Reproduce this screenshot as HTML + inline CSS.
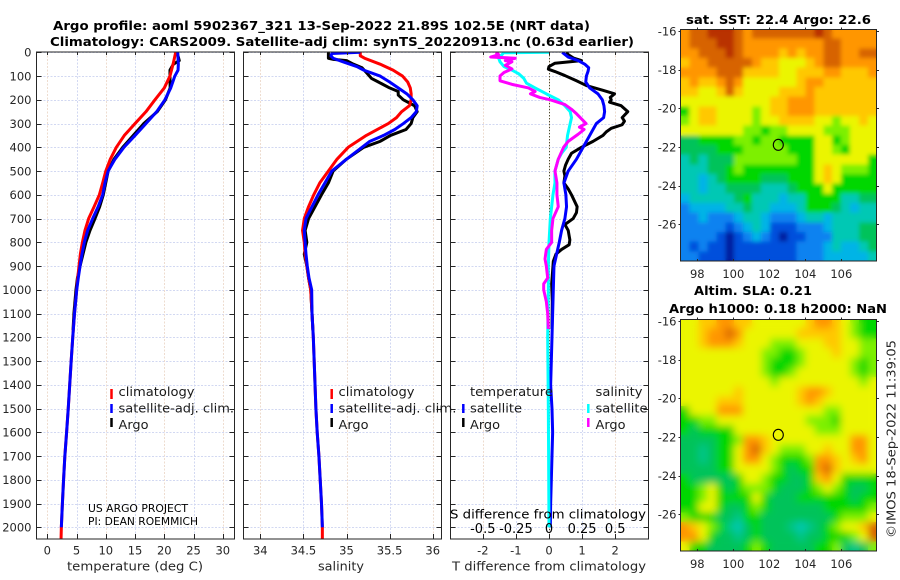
<!DOCTYPE html>
<html>
<head>
<meta charset="utf-8">
<title>Argo profile</title>
<style>
html,body{margin:0;padding:0;background:#fff;}
svg{display:block;}
text{font-family:"DejaVu Sans","Liberation Sans",sans-serif;fill:#262626;font-size:11.5px;}
.ttl{font-weight:bold;fill:#000;font-size:12px;}
.leg{font-size:12px;fill:#1a1a1a;}
</style>
</head>
<body>
<svg id="fig" xmlns="http://www.w3.org/2000/svg" width="900" height="580" viewBox="0 0 900 580">
  <defs>
    <clipPath id="clipT"><rect x="36.5" y="52" width="198" height="487"/></clipPath>
    <clipPath id="clipS"><rect x="243.5" y="52" width="198" height="487"/></clipPath>
    <clipPath id="clipD"><rect x="450.5" y="52" width="198" height="487"/></clipPath>
    <clipPath id="clipM1"><rect x="680.5" y="29.5" width="196" height="231.5"/></clipPath>
    <clipPath id="clipM2"><rect x="680.5" y="319.5" width="196" height="231.5"/></clipPath>
    <filter id="blurSla" x="0" y="0" width="1" height="1"><feGaussianBlur in="SourceGraphic" stdDeviation="4" result="b"/><feMerge><feMergeNode in="SourceGraphic"/><feMergeNode in="b"/></feMerge></filter>
    <filter id="blurSst" x="0" y="0" width="1" height="1"><feGaussianBlur in="SourceGraphic" stdDeviation="2.2" result="b"/><feMerge><feMergeNode in="SourceGraphic"/><feMergeNode in="b"/></feMerge></filter>
  </defs>
  <rect x="0" y="0" width="900" height="580" fill="#fff"/>

  <g id="gridLayer"></g>
  <g id="lineT" clip-path="url(#clipT)"></g>
  <g id="lineS" clip-path="url(#clipS)"></g>
  <g id="lineD" clip-path="url(#clipD)"></g>
  <g id="axesLayer"></g>

  <g id="map1"><g id="map1cells" clip-path="url(#clipM1)" filter="url(#blurSst)" shape-rendering="crispEdges"></g></g>
  <g id="map2"><g id="map2cells" clip-path="url(#clipM2)" filter="url(#blurSla)" shape-rendering="crispEdges"></g></g>
  <g id="mapAxes"></g>

  <text class="ttl" x="53" y="30" textLength="537" lengthAdjust="spacingAndGlyphs">Argo profile: aoml 5902367_321 13-Sep-2022 21.89S 102.5E (NRT data)</text>
  <text class="ttl" x="50" y="46" textLength="584" lengthAdjust="spacingAndGlyphs">Climatology: CARS2009. Satellite-adj clim: synTS_20220913.nc (0.63d earlier)</text>
  <text class="ttl" x="686" y="24" textLength="185" lengthAdjust="spacingAndGlyphs">sat. SST: 22.4 Argo: 22.6</text>
  <text class="ttl" x="694" y="295" textLength="118" lengthAdjust="spacingAndGlyphs">Altim. SLA: 0.21</text>
  <text class="ttl" x="669" y="313" textLength="218" lengthAdjust="spacingAndGlyphs">Argo h1000: 0.18 h2000: NaN</text>
  <text transform="translate(895.5,538) rotate(-90)" textLength="198" lengthAdjust="spacingAndGlyphs" style="font-size:12px">©IMOS 18-Sep-2022 11:39:05</text>

  <text x="67" y="570.5" textLength="136" lengthAdjust="spacingAndGlyphs" style="font-size:12px">temperature (deg C)</text>
  <text x="318" y="570.5" textLength="46" lengthAdjust="spacingAndGlyphs" style="font-size:12px">salinity</text>
  <text x="452" y="570.5" textLength="194" lengthAdjust="spacingAndGlyphs" style="font-size:12px">T difference from climatology</text>
  <text x="450" y="518.5" textLength="196" lengthAdjust="spacingAndGlyphs" style="font-size:12px;fill:#000">S difference from climatology</text>

  <g>
    <line x1="111.5" x2="111.5" y1="389" y2="399" stroke="#f00" stroke-width="2.5"/>
    <line x1="111.5" x2="111.5" y1="404" y2="413" stroke="#00f" stroke-width="2.5"/>
    <line x1="111.5" x2="111.5" y1="418" y2="427" stroke="#000" stroke-width="2.5"/>
    <text class="leg" x="118.5" y="396" textLength="76" lengthAdjust="spacingAndGlyphs">climatology</text>
    <text class="leg" x="118.5" y="412.5" textLength="115.5" lengthAdjust="spacingAndGlyphs">satellite-adj. clim.</text>
    <text class="leg" x="118.5" y="429" textLength="30" lengthAdjust="spacingAndGlyphs">Argo</text>
    <text x="88" y="512" textLength="100" lengthAdjust="spacingAndGlyphs" style="font-size:10.5px;fill:#000">US ARGO PROJECT</text>
    <text x="88" y="525" textLength="110" lengthAdjust="spacingAndGlyphs" style="font-size:10.5px;fill:#000">PI: DEAN ROEMMICH</text>
  </g>
  <g>
    <line x1="331.7" x2="331.7" y1="389" y2="399" stroke="#f00" stroke-width="2.5"/>
    <line x1="331.7" x2="331.7" y1="404" y2="413" stroke="#00f" stroke-width="2.5"/>
    <line x1="331.7" x2="331.7" y1="418" y2="427" stroke="#000" stroke-width="2.5"/>
    <text class="leg" x="338.5" y="396" textLength="76" lengthAdjust="spacingAndGlyphs">climatology</text>
    <text class="leg" x="338.5" y="412.5" textLength="118" lengthAdjust="spacingAndGlyphs">satellite-adj. clim.</text>
    <text class="leg" x="338.5" y="429" textLength="30" lengthAdjust="spacingAndGlyphs">Argo</text>
  </g>
  <g>
    <text class="leg" x="470" y="396" textLength="83" lengthAdjust="spacingAndGlyphs">temperature</text>
    <line x1="463.3" x2="463.3" y1="404" y2="413" stroke="#00f" stroke-width="2.5"/>
    <line x1="463.3" x2="463.3" y1="418" y2="427" stroke="#000" stroke-width="2.5"/>
    <text class="leg" x="470" y="412.5" textLength="52" lengthAdjust="spacingAndGlyphs">satellite</text>
    <text class="leg" x="470" y="429" textLength="30" lengthAdjust="spacingAndGlyphs">Argo</text>
    <text class="leg" x="595.5" y="396" textLength="47" lengthAdjust="spacingAndGlyphs">salinity</text>
    <line x1="588.3" x2="588.3" y1="404" y2="413" stroke="#0ff" stroke-width="2.5"/>
    <line x1="588.3" x2="588.3" y1="418" y2="427" stroke="#f0f" stroke-width="2.5"/>
    <text class="leg" x="595.5" y="412.5" textLength="52" lengthAdjust="spacingAndGlyphs">satellite</text>
    <text class="leg" x="595.5" y="429" textLength="30" lengthAdjust="spacingAndGlyphs">Argo</text>
  </g>
</svg>
<script>
// ---------- tick labels ----------
const depthTicks = [0,100,200,300,400,500,600,700,800,900,1000,1100,1200,1300,1400,1500,1600,1700,1800,1900,2000];
const tempTicks = [0,5,10,15,20,25,30];
const salTicks = [34,34.5,35,35.5,36];
const salTickLabels = ['34','34.5','35','35.5','36'];
const dTempTicks = [-2,-1,0,1,2];
const dSalTicks = [-0.5,-0.25,0,0.25,0.5];
const dSalTickLabels = ['-0.5','-0.25','0','0.25','0.5'];
const lonTicks = [98,100,102,104,106];
const latTicks = [-16,-18,-20,-22,-24,-26];

// ---------- temperature profiles ----------
const tempClimDepths = [0,50,100,150,200,250,300,350,400,450,500,550,600,650,700,750,800,850,900,950,1000,1100,1200,1300,1400,1500,1600,1700,1800,1900,2000,2050];
const tempClimValues = [21.95,21.5,20.97,20,18.4,16.87,15,13.17,11.8,10.77,10,9.47,8.9,8,7.07,6.44,6,5.65,5.42,5.2,5.02,4.65,4.35,4.08,3.83,3.58,3.3,3,2.78,2.58,2.4,2.35];
const tempSatDepths = [0,50,75,100,150,200,250,300,350,400,450,500,550,600,650,700,750,800,850,900,950,1000,1100,1200,1300,1400,1500,1600,1700,1800,1900,2000];
const tempSatValues = [22.3,22.4,22.35,21.8,21.1,20.1,18.7,16.87,15,13.1,11.57,10.4,9.86,9.47,8.7,7.76,6.9,6.33,5.93,5.6,5.3,5.03,4.65,4.35,4.08,3.83,3.58,3.3,3,2.78,2.58,2.4];
const tempArgoDepths = [0,20,35,50,75,100,150,200,250,300,350,400,450,500,600,650,700,750,800,850,900,950,1000,1100,1170];
const tempArgoValues = [22.1,22.4,22.56,21.55,20.97,20.97,21,20.2,18.8,16.5,14.7,12.9,11.4,10.4,9.57,8.95,8.15,7.3,6.6,6.1,5.6,5.15,4.9,4.55,4.4];

// ---------- salinity profiles ----------
const salClimDepths = [0,15,25,50,75,100,125,150,175,200,225,250,275,300,350,400,450,500,550,600,650,700,750,800,850,900,950,1000,1100,1200,1300,1400,1500,1600,1700,1800,1900,2000,2050];
const salClimValues = [35.16,35.16,35.21,35.39,35.54,35.65,35.71,35.74,35.75,35.75,35.73,35.64,35.58,35.485,35.23,35.02,34.89,34.79,34.69,34.62,34.56,34.51,34.49,34.51,34.52,34.54,34.56,34.585,34.6,34.615,34.625,34.635,34.645,34.66,34.68,34.695,34.71,34.72,34.72];
const salSatDepths = [0,5,15,25,40,60,75,100,125,150,175,200,225,250,275,300,325,350,375,400,450,500,550,600,650,700,750,800,850,900,950,1000,1100,1200,1300,1400,1500,1600,1700,1800,1900,2000];
const salSatValues = [35.16,34.83,34.82,34.845,34.96,35.12,35.2,35.39,35.5,35.6,35.7,35.77,35.82,35.81,35.75,35.66,35.56,35.43,35.27,35.18,35,34.83,34.75,34.67,34.6,34.53,34.51,34.52,34.53,34.545,34.565,34.596,34.6,34.615,34.625,34.635,34.645,34.66,34.68,34.695,34.71,34.72];
const salArgoDepths = [0,25,30,35,50,65,85,110,125,150,165,180,200,225,250,275,300,325,350,375,400,450,500,550,600,650,700,750,800,850,900,950,1000,1100,1170];
const salArgoValues = [34.79,34.79,34.85,35,35.08,35.18,35.23,35.29,35.37,35.5,35.6,35.6,35.66,35.79,35.82,35.77,35.75,35.69,35.51,35.39,35.2,35,34.845,34.79,34.71,34.635,34.56,34.52,34.54,34.51,34.54,34.56,34.585,34.6,34.61];

// ---------- differences from climatology ----------
const dTempSatDepths = [0,20,35,50,65,80,100,125,150,175,200,225,250,275,300,350,400,450,500,550,600,650,700,750,800,850,900,1000,1100,1200,1300,1400,1500,1600,1700,1800,1900,2000];
const dTempSatValues = [0.4,0.58,0.88,1.08,1.2,1.18,1.13,1.11,1.23,1.48,1.61,1.66,1.68,1.65,1.43,1.23,1.03,0.83,0.58,0.45,0.51,0.53,0.48,0.38,0.31,0.23,0.15,0.13,0.11,0.09,0.07,0.05,0.09,0.11,0.09,0.07,0.05,0.04];
const dTempArgoDepths = [0,10,25,35,46,60,71,81,98,120,140,160,175,190,200,210,225,250,275,290,305,320,335,350,375,400,425,450,475,500,520,550,575,600,650,675,700,725,750,790,810,830,850,880,920,975,1050,1165];
const dTempArgoValues = [0.53,0.58,0.75,0.98,0.18,0,-0.02,0.18,0.48,0.83,1.13,1.63,1.98,1.85,1.88,1.83,2.18,2.38,2.21,2.28,2.21,1.88,1.73,1.63,1.33,0.98,0.68,0.58,0.5,0.45,0.48,0.45,0.58,0.68,0.85,0.83,0.73,0.48,0.58,0.63,0.61,0.38,0.21,0.13,0.11,0.08,0.1,0.09];
const dSalSatDepths = [0,2,10,25,40,60,75,90,110,130,150,175,200,225,250,275,300,350,400,425,450,500,550,600,650,700,800,900,1000,1200,1500,2000];
const dSalSatValues = [0,-0.3425,-0.355,-0.38,-0.37,-0.34,-0.28,-0.23,-0.19,-0.17,-0.105,-0.02,0.07,0.12,0.16,0.17,0.16,0.14,0.13,0.095,0.07,0.045,0.045,0.03,0.02,0.01,0,-0.005,-0.005,-0.01,-0.005,0];
const dSalArgoDepths = [0,5,10,20,25,35,40,55,70,85,100,120,135,150,165,175,190,200,220,240,260,280,300,315,325,345,375,400,450,500,550,600,650,700,750,800,830,870,900,950,975,1000,1050,1100,1165];
const dSalArgoValues = [-0.38,-0.395,-0.38,-0.44,-0.255,-0.33,-0.28,-0.33,-0.28,-0.34,-0.37,-0.37,-0.28,-0.155,-0.105,-0.14,-0.07,0.01,0.12,0.17,0.21,0.245,0.28,0.23,0.265,0.22,0.145,0.11,0.07,0.045,0.06,0.06,0.07,0.03,0.02,0.02,-0.02,-0.03,-0.02,-0.01,-0.04,-0.04,-0.02,-0.01,-0.005];

// ---------- map grids (colour level, 0 = coolest/lowest ... 12 = warmest/highest) ----------
const sstGrid = [
[10,11,11,12,12,12,11,10,11,11,11,11,11,11,11,12,11,10,10,10,10,10],
[10,11,11,11,12,12,11,10,10,10,10,10,10,10,10,10,11,11,10,10,10,10],
[10,10,11,11,11,12,11,10,10,10,10,9,10,9,10,10,11,11,10,10,11,11],
[9,10,10,11,11,11,11,11,10,9,9,8,8,8,9,10,11,11,10,10,10,10],
[10,10,10,10,11,11,11,9,9,9,9,8,8,9,9,9,10,10,9,9,9,10],
[9,10,9,9,10,11,10,8,8,8,8,8,8,9,10,10,9,9,9,9,9,9],
[9,9,8,8,9,11,9,8,8,8,8,9,9,9,10,9,9,9,9,9,9,9],
[8,8,8,8,8,8,8,8,8,8,9,9,10,10,10,9,9,9,9,9,9,9],
[6,8,9,9,8,8,8,8,7,8,9,9,10,10,10,9,9,9,9,9,9,9],
[7,8,9,9,8,8,8,8,7,8,8,9,9,9,9,8,8,7,8,8,9,8],
[8,8,8,8,8,8,8,7,7,6,7,7,8,8,8,8,7,7,7,8,8,8],
[5,5,6,6,6,6,7,7,6,7,7,6,6,6,6,8,8,6,7,8,8,8],
[5,5,5,5,6,6,6,7,7,7,7,7,6,6,6,8,8,7,6,8,8,8],
[4,5,4,5,5,5,7,7,7,7,7,7,7,6,6,8,8,8,8,8,8,6],
[4,4,4,5,5,6,7,6,6,6,6,6,6,6,6,8,9,8,7,7,7,6],
[4,4,3,4,5,6,6,6,6,5,5,5,6,6,6,8,9,8,6,6,6,6],
[4,4,3,4,4,5,5,5,5,4,4,4,5,6,6,6,8,6,6,6,6,6],
[3,4,4,4,4,4,5,6,4,4,4,3,4,4,6,6,6,6,4,4,5,5],
[2,3,3,3,3,4,4,5,4,4,3,3,3,4,6,6,6,5,4,3,4,4],
[2,2,3,2,2,2,3,4,4,3,2,2,2,3,4,4,3,4,4,4,4,4],
[2,2,2,2,2,1,2,3,4,3,1,1,1,2,2,2,3,4,4,4,5,5],
[2,2,2,2,1,0,1,2,3,2,1,0,1,1,2,2,2,4,4,4,5,5],
[2,1,2,1,1,0,1,1,1,1,1,1,1,2,2,2,3,4,3,3,4,5],
[2,2,1,1,1,0,1,1,1,1,1,1,1,2,2,2,3,3,3,3,3,4]
];
const slaGrid = [
[8,8,9,9,10,10,9,9,8,8,8,8,8,8,9,10,10,9,8,7,6,6],
[8,8,9,10,10,11,10,8,8,8,8,8,8,9,9,9,9,9,8,7,6,6],
[8,8,9,10,10,10,9,8,8,8,7,7,7,8,8,8,9,9,8,8,7,7],
[8,8,8,8,8,8,8,8,8,7,7,6,6,7,8,8,8,9,8,8,7,7],
[8,8,8,8,8,8,8,8,8,7,6,6,6,7,8,8,8,8,8,7,6,7],
[8,8,8,8,8,8,8,8,8,7,6,6,7,8,8,8,8,8,8,7,6,7],
[8,8,8,8,8,8,8,8,8,8,7,8,8,8,8,8,8,8,8,8,7,8],
[8,8,8,8,8,8,9,8,8,8,8,8,8,9,10,10,9,8,8,8,8,8],
[8,8,8,8,9,9,9,8,8,8,8,8,8,9,10,9,8,8,8,8,8,8],
[6,8,8,8,10,10,10,8,8,8,8,8,8,8,8,8,7,7,8,8,8,8],
[6,6,7,7,8,8,8,8,8,8,8,8,8,8,7,7,7,6,8,8,8,8],
[6,5,6,6,6,6,8,8,8,8,8,8,8,8,8,7,7,7,8,8,8,8],
[5,5,5,5,6,6,7,10,10,9,8,8,8,8,8,8,8,8,8,10,10,8],
[5,5,4.5,5,6,6,8,10,11,9,8,7,7,7,8,8,9,8,8,10,10,8],
[5,5,4.5,5,6,6,8,10,10,8,7,6,6,6,7,10,10,9,8,9,10,8],
[5,5,5,5,6,6,8,8,8,8,7,6,5,6,6,10,11,9,8,8,8,8],
[6,5,5,5,5,5,6,8,8,7,6,6,5,5,6,9,10,8,6,6,6,6],
[6,6,7,8,6,5,6,7,7,7,6,5,5,5,6,7,8,7,6,5,5,6],
[6,6,7,8,6,6,6,6,8,6,5,5,5,6,6,6,6,6,6,5,6,6],
[6,6,8,8,6,5,5,6,7,6,5,5,5,5,5,5,6,6,6,6,6,7],
[7,6,6,6,5,5,4.5,6,6,5,5,5,5,5,5,5,5,6,7,7,7,8],
[10,9,8,7,6,4.5,4,5,6,5,5,5,4.5,4,4.5,5,6,7,8,8,9,11],
[10,10,8,6,5,5,4.5,5,6,5,5,5,5,4.5,5,5,6,6,6,7,8,11],
[8,6,6,5,5,5,5,6,7,6,5,5,5,5,5,6,6,7,5,4.5,5,7]
];
const floatLon = [102.5];
const floatLat = [-21.89];

// ---------- scales ----------
const NS = 'http://www.w3.org/2000/svg';
function yD(d){ return 52.3 + d * 0.2375; }
function xT(t){ return 47.3 + t * 5.85; }
function xS(s){ return 260.3 + (s - 34) * 86.2; }
function xDT(v){ return 549 + v * 33.1; }
function xDS(v){ return 549 + v * 132.4; }
function xLon(l){ return 697.3 + (l - 98) * 18; }
function yLat1(l){ return 31 + (-16 - l) * 19.33; }
function yLat2(l){ return 321 + (-16 - l) * 19.33; }

function mk(tag, parent, attrs){
  const e = document.createElementNS(NS, tag);
  for (const k in attrs) e.setAttribute(k, attrs[k]);
  parent.appendChild(e);
  return e;
}
function seg(parent, x1, y1, x2, y2, stroke, width, dash){
  const attrs = {x1:x1, y1:y1, x2:x2, y2:y2, stroke:stroke, 'stroke-width':width};
  if (dash) attrs['stroke-dasharray'] = dash;
  return mk('line', parent, attrs);
}
function label(parent, x, y, str, anchor){
  const e = mk('text', parent, {x:x, y:y, 'text-anchor':anchor});
  e.textContent = str;
  return e;
}
function profile(parent, depths, values, xf, color, width){
  const n = Math.min(depths.length, values.length);
  let d = '';
  for (let i = 0; i < n; i++) d += (i ? 'L' : 'M') + xf(values[i]).toFixed(2) + ' ' + yD(depths[i]).toFixed(2);
  return mk('path', parent, {d:d, fill:'none', stroke:color, 'stroke-width':width, 'stroke-linejoin':'round'});
}

const gridLayer = document.getElementById('gridLayer');
const axesLayer = document.getElementById('axesLayer');
const panels = [
  {x0:36.5, x1:234.5, name:'temperature'},
  {x0:243.5, x1:441.5, name:'salinity'},
  {x0:450.5, x1:648.5, name:'difference'}
];
const TOP = 52, BOTTOM = 539;
const GRID_BLUE = '#d2d8f2', GRID_TAN = '#eedccf';

panels.forEach(function(p, idx){
  depthTicks.forEach(function(d){
    const y = Math.round(yD(d)) + 0.5;
    const g = seg(gridLayer, p.x0, y, p.x1, y, GRID_BLUE, 1, '2 1.5');
    
    
    const a = seg(axesLayer, p.x0, y, p.x0 + 5, y, '#262626', 1);
    
    
    const b = seg(axesLayer, p.x1 - 5, y, p.x1, y, '#262626', 1);
    
    
    if (idx === 0) {
      const t = label(axesLayer, 31.5, yD(d) + 4.3, String(d), 'end');
      
      
    }
  });
  const box = mk('rect', axesLayer, {x:p.x0, y:TOP - 0.5 + 0.5, width:p.x1 - p.x0, height:BOTTOM - TOP, fill:'none', stroke:'#262626', 'stroke-width':1});
  
  
});

function xAxis(ticks, labels, xf, panelName, labelY){
  ticks.forEach(function(v, i){
    const x = Math.round(xf(v)) + 0.5;
    const col = i % 2 ? GRID_BLUE : GRID_TAN;
    const g = seg(gridLayer, x, TOP, x, BOTTOM, col, 1, '2 1.5');
    
    
    const a = seg(axesLayer, x, BOTTOM - 5, x, BOTTOM, '#262626', 1);
    
    
    const b = seg(axesLayer, x, TOP, x, TOP + 3, '#262626', 1);
    
    
    const t = label(axesLayer, xf(v), labelY, labels[i], 'middle');
    
    
  });
}
xAxis(tempTicks, tempTicks.map(String), xT, 'temperature', 554.5);
xAxis(salTicks, salTickLabels, xS, 'salinity', 554.5);
xAxis(dTempTicks, dTempTicks.map(String), xDT, 't-difference', 554.5);
dSalTicks.forEach(function(v, i){
  const t = label(axesLayer, xDS(v), 533, dSalTickLabels[i], 'middle');
  
  
  t.setAttribute('style', 'font-size:13px;fill:#000');
});
const zeroLine = seg(gridLayer, 549.5, TOP, 549.5, BOTTOM, '#4a4a30', 1, '1.2 1.8');



// ---------- profile lines ----------
const W = 3;
const gT = document.getElementById('lineT');
const gS = document.getElementById('lineS');
const gD = document.getElementById('lineD');

let ln = profile(gT, tempArgoDepths, tempArgoValues, xT, '#000', W);


ln = profile(gT, tempClimDepths, tempClimValues, xT, '#f00', W);


ln = profile(gT, tempSatDepths, tempSatValues, xT, '#00f', W);



ln = profile(gS, salArgoDepths, salArgoValues, xS, '#000', W);


ln = profile(gS, salClimDepths, salClimValues, xS, '#f00', W);


ln = profile(gS, salSatDepths, salSatValues, xS, '#00f', W);



ln = profile(gD, dTempArgoDepths, dTempArgoValues, xDT, '#000', W);


ln = profile(gD, dTempSatDepths, dTempSatValues, xDT, '#00f', W);


ln = profile(gD, dSalSatDepths, dSalSatValues, xDS, '#0ff', W);


ln = profile(gD, dSalArgoDepths, dSalArgoValues, xDS, '#f0f', W);



// ---------- maps ----------
const cmapStops = [
  [0,30,160],[0,80,220],[10,130,240],[0,180,230],[0,200,180],[0,195,90],
  [0,215,0],[125,240,0],[235,245,0],[255,200,0],[255,150,0],[215,100,0],[185,50,0]
];
function levelColor(v){
  const c = Math.max(0, Math.min(12, v));
  const i = Math.min(11, Math.floor(c));
  const f = c - i;
  const a = cmapStops[i], b = cmapStops[i + 1];
  return 'rgb(' + Math.round(a[0] + (b[0] - a[0]) * f) + ',' + Math.round(a[1] + (b[1] - a[1]) * f) + ',' + Math.round(a[2] + (b[2] - a[2]) * f) + ')';
}
const LON0 = 97.08, DLON = 0.495, LAT0 = -15.9, DLAT = 0.5;
function drawGrid(layer, grid, yf, cellName){
  grid.forEach(function(row, r){
    row.forEach(function(v, c){
      const x0 = xLon(LON0 + c * DLON), x1 = xLon(LON0 + (c + 1) * DLON);
      const y0 = yf(LAT0 - r * DLAT), y1 = yf(LAT0 - (r + 1) * DLAT);
      const cell = mk('rect', layer, {x:x0, y:y0, width:x1 - x0 + 0.6, height:y1 - y0 + 0.6, fill:levelColor(v)});
      
      
    });
  });
}
drawGrid(document.getElementById('map1cells'), sstGrid, yLat1, 'sst-cell');
drawGrid(document.getElementById('map2cells'), slaGrid, yLat2, 'sla-cell');

const mapAxes = document.getElementById('mapAxes');
function mapFrame(top, bottom, yf, mapName, xLabelY){
  const box = mk('rect', mapAxes, {x:680.5, y:top, width:196, height:bottom - top, fill:'none', stroke:'#262626', 'stroke-width':1});
  
  
  lonTicks.forEach(function(l){
    const x = Math.round(xLon(l)) + 0.5;
    const a = seg(mapAxes, x, bottom - 2, x, bottom, '#262626', 1);
    
    
    const b = seg(mapAxes, x, top, x, top - 2, '#262626', 1);
    
    
    const t = label(mapAxes, xLon(l), xLabelY, String(l), 'middle');
    
    
  });
  latTicks.forEach(function(l){
    const y = Math.round(yf(l)) + 0.5;
    const a = seg(mapAxes, 680.5, y, 678.5, y, '#262626', 1);
    
    
    const b = seg(mapAxes, 876.5, y, 879, y, '#262626', 1);
    
    
    const t = label(mapAxes, 676.5, yf(l) + 4.3, String(l), 'end');
    
    
  });
  const mark = mk('ellipse', mapAxes, {cx:xLon(floatLon[0]), cy:yf(floatLat[0]), rx:5, ry:5.5, fill:'none', stroke:'#000', 'stroke-width':1.1});
  
  
}
mapFrame(29.5, 261, yLat1, 'sst-map', 278);
mapFrame(319.5, 551, yLat2, 'sla-map', 568);
</script>
</body>
</html>
